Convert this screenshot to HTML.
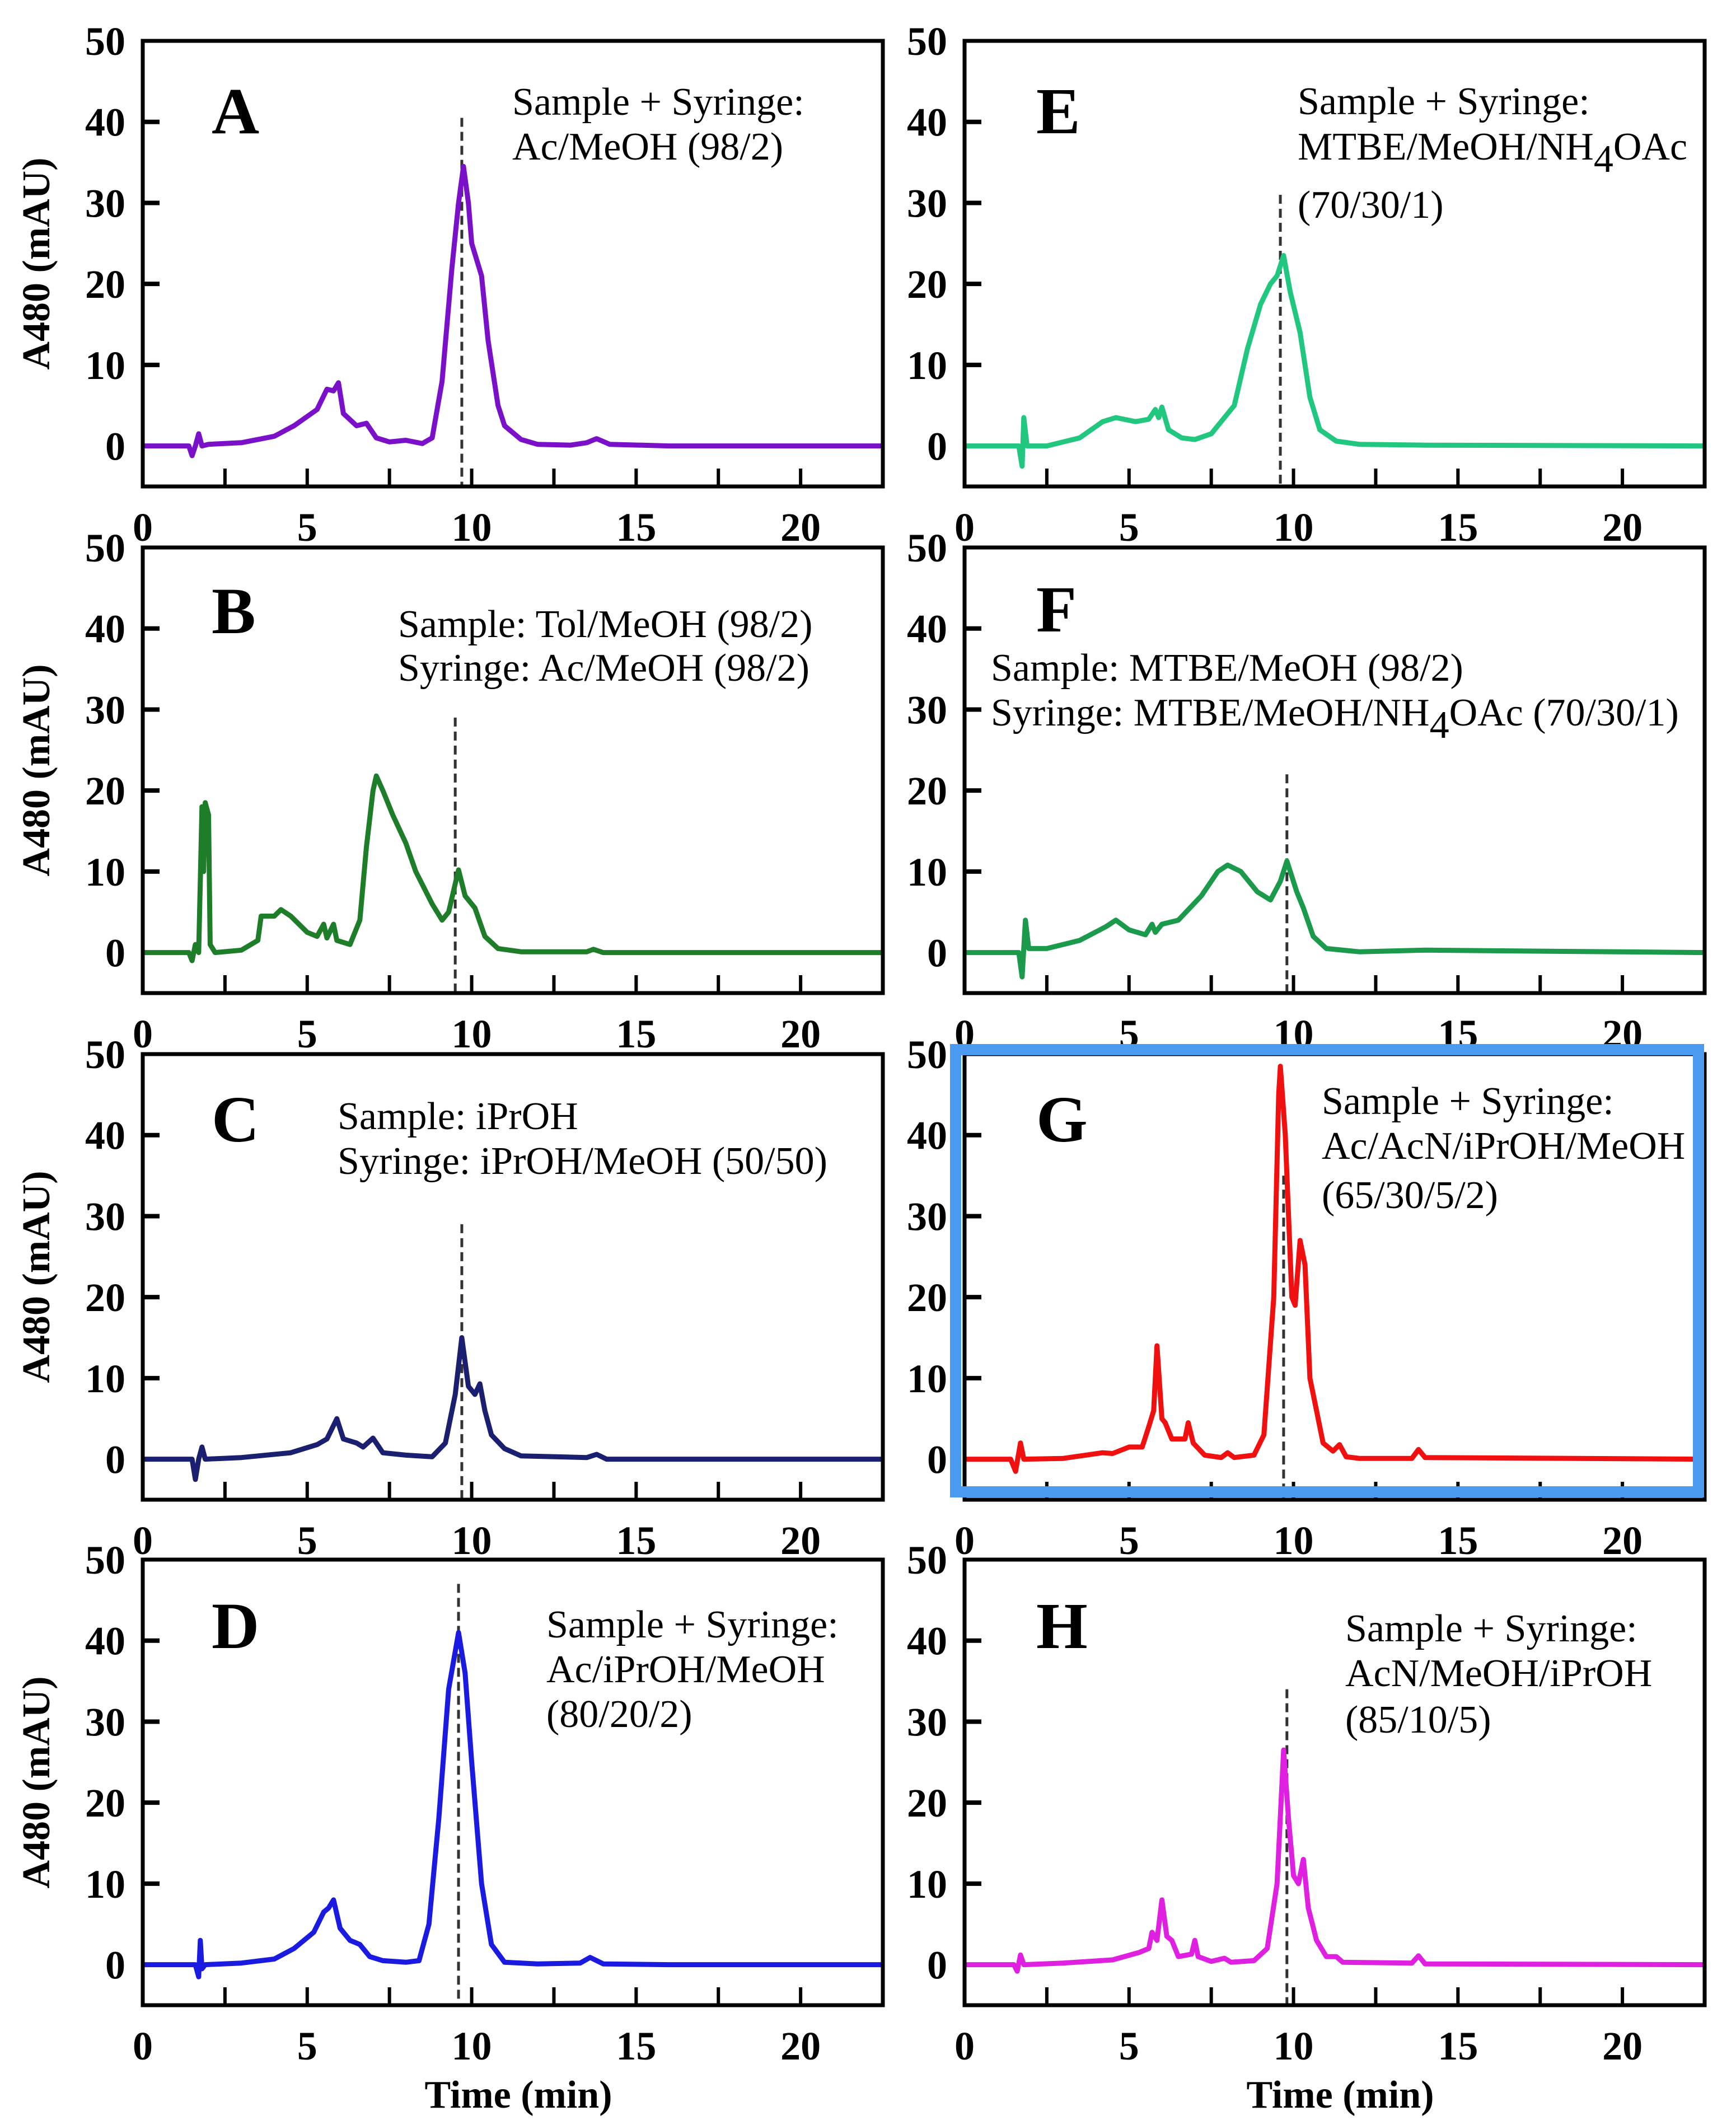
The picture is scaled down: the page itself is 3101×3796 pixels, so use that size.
<!DOCTYPE html>
<html><head><meta charset="utf-8"><style>
html,body{margin:0;padding:0;background:#fff}
svg{display:block}
text{font-family:"Liberation Serif",serif}
</style></head><body>
<svg id="chart" xmlns="http://www.w3.org/2000/svg" width="3101" height="3796" viewBox="0 0 3101 3796"></svg>
<script>
const NS="http://www.w3.org/2000/svg";
const xTicks=[0,5,10,15,20];
const yTicks=[0,10,20,30,40,50];
const panelLetters=["A","B","C","D","E","F","G","H"];
const colors=["#7a10c8","#1e7d28","#1a1f70","#1a1ae0","#22c77f","#1a9a4a","#f01010","#e020e0"];
const dashX=[9.7,9.5,9.7,9.6,9.6,9.8,9.7,9.8];
const dashTop=[40.5,29,29,47,31,22,35,34];
const annotations=[
 ["Sample + Syringe:","Ac/MeOH (98/2)"],
 ["Sample: Tol/MeOH (98/2)","Syringe: Ac/MeOH (98/2)"],
 ["Sample: iPrOH","Syringe: iPrOH/MeOH (50/50)"],
 ["Sample + Syringe:","Ac/iPrOH/MeOH","(80/20/2)"],
 ["Sample + Syringe:","MTBE/MeOH/NH|4|OAc","(70/30/1)"],
 ["Sample: MTBE/MeOH (98/2)","Syringe: MTBE/MeOH/NH|4|OAc (70/30/1)"],
 ["Sample + Syringe:","Ac/AcN/iPrOH/MeOH","(65/30/5/2)"],
 ["Sample + Syringe:","AcN/MeOH/iPrOH","(85/10/5)"]
];
const seriesA=[[0,0],[1.4,0],[1.5,-1.2],[1.6,0],[1.7,1.5],[1.8,0],[2,0.2],[3,0.4],[4,1.2],[4.6,2.5],[5.3,4.5],[5.6,7],[5.8,6.8],[5.95,7.8],[6.1,4],[6.5,2.5],[6.8,2.8],[7.1,1],[7.5,0.5],[8,0.7],[8.5,0.3],[8.8,1],[9.1,8],[9.4,22],[9.6,30],[9.75,34.5],[9.9,30],[10,25],[10.3,21],[10.5,13],[10.8,5],[11,2.5],[11.5,0.8],[12,0.2],[13,0.1],[13.5,0.4],[13.8,0.9],[14.2,0.2],[16,0],[22.5,0]];
const seriesB=[[0,0],[1.4,0],[1.5,-1],[1.6,1],[1.7,0],[1.8,18],[1.85,10],[1.9,18.5],[2,17],[2.05,1],[2.2,0],[3,0.3],[3.5,1.5],[3.6,4.5],[4,4.5],[4.2,5.3],[4.5,4.5],[5,2.5],[5.3,2],[5.5,3.5],[5.6,1.8],[5.8,3.5],[5.9,1.5],[6.3,1],[6.6,4],[6.8,13],[7,20],[7.1,21.8],[7.3,20],[7.6,17],[8,13.5],[8.3,10],[8.8,6],[9.1,4],[9.3,5],[9.5,8.5],[9.6,10.2],[9.8,7],[10.1,5.5],[10.4,2],[10.8,0.5],[11.5,0.1],[13.5,0.1],[13.7,0.4],[14,0],[22.5,0]];
const seriesC=[[0,0],[1.5,0],[1.6,-2.5],[1.7,0],[1.8,1.5],[1.9,0],[3,0.2],[4.5,0.8],[5.3,1.8],[5.6,2.5],[5.9,5],[6.1,2.5],[6.5,2],[6.7,1.5],[7,2.6],[7.3,0.8],[8,0.5],[8.8,0.3],[9.2,2],[9.5,8],[9.7,15],[9.9,9],[10.1,8],[10.25,9.3],[10.4,6],[10.6,3],[11,1.3],[11.5,0.4],[13.5,0.2],[13.8,0.6],[14.1,0],[22.5,0]];
const seriesD=[[0,0],[1.6,0],[1.7,-1.5],[1.75,3],[1.8,-0.5],[1.9,0],[3,0.2],[4,0.7],[4.6,2],[5.2,4],[5.5,6.5],[5.65,7],[5.8,8],[6,4.5],[6.3,3],[6.6,2.5],[6.9,1],[7.3,0.5],[8,0.3],[8.4,0.5],[8.7,5],[9,18],[9.3,34],[9.6,41],[9.8,36],[10,25],[10.3,10],[10.6,2.5],[11,0.3],[12,0.1],[13.3,0.2],[13.6,0.9],[14,0.1],[16,0],[22.5,0]];
const seriesE=[[0,0],[1.65,0],[1.75,-2.5],[1.8,3.5],[1.9,0],[2.5,0],[3.5,1],[4.2,3],[4.6,3.5],[5.2,3],[5.6,3.3],[5.8,4.5],[5.9,3.5],[6,4.8],[6.2,2],[6.6,1],[7,0.8],[7.5,1.5],[8.2,5],[8.6,12],[9,17.5],[9.3,20],[9.5,21],[9.7,23.5],[9.9,19],[10.2,14],[10.5,6],[10.8,2],[11.3,0.6],[12,0.2],[14,0.1],[22.5,0]];
const seriesF=[[0,0],[1.65,0],[1.75,-3],[1.85,4],[1.95,0.5],[2.5,0.5],[3.5,1.5],[4.3,3.2],[4.6,4],[5,2.8],[5.5,2.2],[5.7,3.5],[5.8,2.5],[6,3.5],[6.5,4],[7.2,7],[7.7,10],[8,10.8],[8.4,10],[8.9,7.5],[9.3,6.5],[9.6,8.8],[9.8,11.3],[10.1,7.5],[10.3,5.5],[10.6,2],[11,0.5],[12,0.1],[14,0.3],[22.5,0]];
const seriesG=[[0,0],[1.4,0],[1.55,-1.5],[1.7,2],[1.8,0],[3,0.1],[4.2,0.8],[4.5,0.7],[5,1.5],[5.4,1.5],[5.6,4],[5.75,6],[5.85,14],[6,5],[6.1,4.5],[6.3,2.5],[6.7,2.5],[6.8,4.5],[6.95,2],[7.3,0.5],[7.8,0.2],[8,0.8],[8.2,0.2],[8.8,0.5],[9.1,3],[9.4,20],[9.55,45],[9.6,48.5],[9.75,40],[9.95,20],[10.05,19],[10.2,27],[10.35,24],[10.5,10],[10.7,6],[10.9,2],[11.2,1],[11.4,1.8],[11.6,0.3],[12,0.1],[13.6,0.1],[13.8,1.2],[14,0.2],[22.5,0]];
const seriesH=[[0,0],[1.5,0],[1.6,-0.8],[1.7,1.2],[1.8,0],[3,0.2],[4.5,0.6],[5.3,1.5],[5.6,2],[5.7,4],[5.85,3],[6,8],[6.15,3.5],[6.3,3],[6.5,1],[6.9,1.3],[7,3],[7.1,1],[7.5,0.4],[7.9,0.8],[8.1,0.3],[8.8,0.5],[9.2,2],[9.5,10],[9.7,26.5],[9.85,18],[10,11],[10.15,10],[10.3,13],[10.45,7],[10.7,3],[11,1],[11.3,1],[11.5,0.3],[13.6,0.2],[13.8,1.1],[14,0.1],[22.5,0]];
const allSeries=[seriesA,seriesB,seriesC,seriesD,seriesE,seriesF,seriesG,seriesH];

const svg=document.getElementById('chart');
function mk(tag,attrs,parent){const e=document.createElementNS(NS,tag);for(const k in attrs)e.setAttribute(k,attrs[k]);(parent||svg).appendChild(e);return e;}
const colL=[255,1723], W=1322, rowT=[73,978,1883,2786], H=796;
const X0=0,X1=22.5,Y0=-5,Y1=50;
const annoX=[660,456,348,721,595,47,638,680];
const annoBase=[[132,212],[160,238],[134,214],[139,219,299],[131,212,316],[238,318],[107,187,275],[146,226,309]];
const letterBase=[165,153,156,158,165,150,156,158];
const letterX=[123,123,123,123,128,128,128,128];

for(let p=0;p<8;p++){
  const col=p<4?0:1,row=p%4;
  const L=colL[col],T=rowT[row];
  const sx=v=>L+(v-X0)/(X1-X0)*W;
  const sy=v=>T+(Y1-v)/(Y1-Y0)*H;
  const g=mk('g',{});
  
  
  for(let t=2.5;t<X1;t+=2.5){
    const tk=mk('line',{x1:sx(t),x2:sx(t),y1:T+H,y2:T+H-32,stroke:'#000','stroke-width':6},g);
    
    
  }
  yTicks.forEach(v=>{
    if(v<50){const tk=mk('line',{x1:L,x2:L+30,y1:sy(v),y2:sy(v),stroke:'#000','stroke-width':8},g);
    
    }
    const lb=mk('text',{x:L-31,y:sy(v)+25,'text-anchor':'end','font-size':72,'font-weight':'bold'},g);
    lb.textContent=v;
    
    
  });
  xTicks.forEach(v=>{
    const lb=mk('text',{x:sx(v),y:T+H+97,'text-anchor':'middle','font-size':72,'font-weight':'bold'},g);
    lb.textContent=v;
    
    
  });
  const dl=mk('line',{x1:sx(dashX[p]),x2:sx(dashX[p]),y1:sy(dashTop[p]),y2:T+H,stroke:'#333','stroke-width':5,'stroke-dasharray':'16,9'},g);
  
  
  const d=allSeries[p].map((pt,i)=>(i?'L':'M')+sx(pt[0]).toFixed(1)+','+sy(pt[1]).toFixed(1)).join('');
  const tr=mk('path',{d:d,fill:'none',stroke:colors[p],'stroke-width':9,'stroke-linejoin':'round'},g);
  
  
  const fr=mk('rect',{x:L,y:T,width:W,height:H,fill:'none',stroke:'#000','stroke-width':7},g);
  
  
  const lt=mk('text',{x:L+letterX[p],y:T+letterBase[p],'font-size':118,'font-weight':'bold'},g);
  lt.textContent=panelLetters[p];
  
  
  annotations[p].forEach((s,i)=>{
    const tx=mk('text',{x:L+annoX[p],y:T+annoBase[p][i],'font-size':70},g);
    
    
    const parts=s.split('|');
    parts.forEach((pt,j)=>{
      const ts=mk('tspan',{},tx);
      if(j===1){ts.setAttribute('dy',22);}
      if(j===2){ts.setAttribute('dy',-22);}
      ts.textContent=pt;
    });
  });
  if(col===0){
    const cy=T+H/2;
    const yl=mk('text',{x:88,y:cy,'text-anchor':'middle','font-size':70,'font-weight':'bold',transform:'rotate(-90 88 '+cy+')'},g);
    yl.textContent='A480 (mAU)';
    
    
  }
  if(row===3){
    const xl=mk('text',{x:L+W/2+10,y:3765,'text-anchor':'middle','font-size':70,'font-weight':'bold'},g);
    xl.textContent='Time (min)';
    
    
  }
}
const hb=mk('rect',{x:1707,y:1875,width:1327,height:790,fill:'none',stroke:'#4a9af0','stroke-width':20});


</script>
</body></html>
